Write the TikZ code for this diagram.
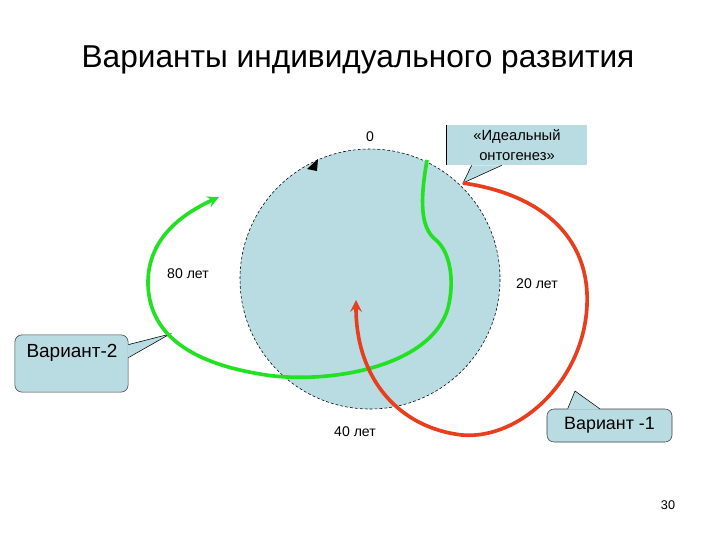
\documentclass[tikz,border=0pt]{standalone}
\usepackage{fontspec}
\setmainfont{Liberation Sans}
\usepackage{xcolor}
\usepackage{tikz}
\usetikzlibrary{calc}
\tikzset{>=stealth}
\definecolor{paleblue}{RGB}{185,220,226}
\definecolor{lifegreen}{RGB}{34,225,34}
\definecolor{lifered}{RGB}{232,62,30}
\tikzset{
  agelabel/.style={font=\fontsize{10}{12}\selectfont},
  callbox/.style={fill=paleblue,draw=black!75,rounded corners=5pt,thin},
  greenpath/.style={color=lifegreen,line width=2.6pt},
  redpath/.style={color=lifered,line width=2.6pt}
}

\begin{document}
\begin{tikzpicture}[x=0.025cm,y=-0.025cm]
    \useasboundingbox (0,0) rectangle (720,540);
    \node (title) at (358,60) {\fontsize{22.5}{26}\selectfont Варианты индивидуального развития};
    % age circle
    \fill[color=paleblue] (370,279) circle (130);
    \draw[thin,dash pattern=on 2pt off 1.5pt] (370,279) circle (130);
    \fill[black] (307,169) -- (318,159) -- (317,171) -- cycle;
    \node[agelabel] (zero) at (370,137) {0};
    \node[agelabel] (age80) at (188,274) {80 лет};
    \node[agelabel] (age20) at (537,284) {20 лет};
    \node[agelabel] (age40) at (355,432) {40 лет};
    % ideal ontogenesis callout
    \node[fill=paleblue,minimum width=3.5cm,minimum height=1cm,align=center,
          font=\fontsize{10.5}{14}\selectfont] (ideal) at (517,145) {«Идеальный\\онтогенез»};
    \coordinate (idealtip) at (463,183);
    \fill[color=paleblue] ($(ideal.south west)+(25,0)$) -- (idealtip) -- ($(ideal.south west)+(55,0)$) -- cycle;
    \draw[thin] ($(ideal.south west)+(25,0)$) -- (idealtip) -- ($(ideal.south west)+(55,0)$);
    \draw[thin] (ideal.south west) -- (ideal.north west);
    % variant 2
    \node[callbox,minimum width=2.83cm,minimum height=1.43cm] (var2) at (71.5,363.5) {};
    \node[font=\fontsize{13.5}{16}\selectfont] (var2txt) at (72,353) {Вариант-2};
    \coordinate (var2tip) at (170,334);
    \fill[color=paleblue] ($(var2.north east)+(-1,10)$) -- (var2tip) -- ($(var2.north east)+(-1,23)$) -- cycle;
    \draw[thin] ($(var2.north east)+(0,10)$) -- (var2tip) -- ($(var2.north east)+(0,23)$);
    % variant 1
    \node[callbox,minimum width=3.125cm,minimum height=0.825cm,
          font=\fontsize{12.7}{15}\selectfont] (var1) at (609.5,425.5) {Вариант -1};
    \coordinate (var1tip) at (575,391);
    \fill[color=paleblue] ($(var1.north west)+(21,1)$) -- (var1tip) -- ($(var1.north west)+(53,1)$) -- cycle;
    \draw[thin] ($(var1.north west)+(21,0)$) -- (var1tip) -- ($(var1.north west)+(53,0)$);
    % trajectories
    \draw[greenpath] (427,160) .. controls (420,200) and (420,228) .. (436,240)
        .. controls (450,252) and (455,280) .. (448,308);
    \draw[greenpath,->] (448,308) .. controls (430,370) and (320,385) .. (260,374)
        .. controls (200,364) and (150,340) .. (148,285)
        .. controls (147,240) and (180,215) .. (219,197);
    \draw[redpath,->] (idealtip) .. controls (545,195) and (590,240) .. (587,305)
        .. controls (584,380) and (520,440) .. (462,435)
        .. controls (400,428) and (356,380) .. (356,300);
    \node[font=\fontsize{9}{11}\selectfont] (pageno) at (668,505) {30};
\end{tikzpicture}
\end{document}
